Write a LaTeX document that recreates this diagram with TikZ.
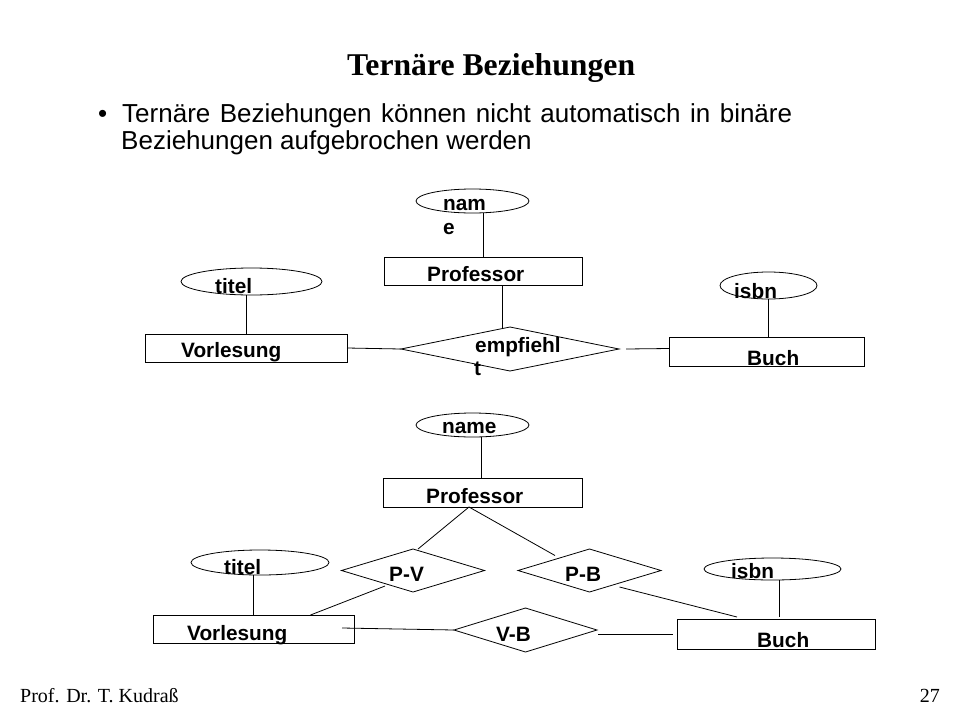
\documentclass[tikz,border=0pt]{standalone}
\usepackage{fontspec}
\setmainfont{Liberation Serif}
\newfontfamily\arialfont{Liberation Sans}
\usetikzlibrary{shapes.geometric,calc}
\tikzset{
  ent/.style={draw, rectangle, inner sep=0pt, outer sep=0pt, line width=0.8pt},
  attr/.style={draw, ellipse, inner sep=0pt, outer sep=0pt, line width=0.8pt},
  rel/.style={draw, diamond, inner sep=0pt, outer sep=0pt, line width=0.8pt},
  lbl/.style={inner sep=0pt, anchor=base west, font=\arialfont\bfseries\fontsize{20.8}{24}\selectfont},
  conn/.style={line width=0.8pt},
  txt/.style={inner sep=0pt, anchor=base west}
}
\begin{document}
\begin{tikzpicture}[x=1pt, y=-1pt]
\useasboundingbox[fill=white] (0,0) rectangle (960,720);

% title and bullet text
\node[txt, font=\bfseries\fontsize{31.7}{36}\selectfont] (title) at (347,75) {Ternäre Beziehungen};
\node[txt, font=\arialfont\fontsize{26}{28}\selectfont] (bul) at (98,122.7) {•};
\node[txt, font=\arialfont\fontsize{26}{28}\selectfont] (line1) at (122,122.7) {\makebox[670pt][s]{Ternäre Beziehungen können nicht automatisch in binäre}};
\node[txt, font=\arialfont\fontsize{26}{28}\selectfont] (line2) at (121,149.5) {Beziehungen aufgebrochen werden};

% footer
\node[txt, font=\fontsize{20}{24}\selectfont] (foot) at (20,702.7) {Prof. Dr. T. Kudraß};
\node[inner sep=0pt, anchor=base east, font=\fontsize{20}{24}\selectfont] (page) at (940,702.7) {27};

% ---------- upper diagram ----------
\node[attr, minimum width=113pt, minimum height=24pt] (nameU) at (472.5,201) {};
\node[ent, minimum width=198pt, minimum height=28pt] (profU) at (483,271) {};
\node[attr, minimum width=141pt, minimum height=27pt] (titelU) at (251.5,281.5) {};
\node[ent, minimum width=202pt, minimum height=28pt] (vorlU) at (246,348) {};
\node[rel, minimum width=218pt, minimum height=44pt] (empfU) at (510,349) {};
\node[ent, minimum width=195pt, minimum height=29pt] (buchU) at (766.5,351.5) {};
\node[attr, minimum width=97pt, minimum height=27pt] (isbnU) at (768.5,285.5) {};

\draw[conn] (nameU.south -| profU.north) -- (profU.north);
\draw[conn] ($(profU.south)+(19,0)$) -- ($(empfU.north)+(-8,1.5)$);
\draw[conn] (titelU.south -| vorlU.north) -- (vorlU.north);
\draw[conn] (vorlU.east) -- (empfU.west);
\draw[conn] ($(empfU.east)+(7,0)$) -- ($(buchU.west)+(0,-3)$);
\draw[conn] (isbnU.south) -- (isbnU.south |- buchU.north);

\node[lbl] (lnam) at (443,210) {nam};
\node[lbl] (le) at (443,234) {e};
\node[lbl] (lprofU) at (427,281) {Professor};
\node[lbl] (ltitelU) at (215,293) {titel};
\node[lbl] (lvorlU) at (181,357.5) {Vorlesung};
\node[lbl] (lempf) at (475,352) {empfiehl};
\node[lbl] (lt) at (474,375) {t};
\node[lbl] (lbuchU) at (747,365) {Buch};
\node[lbl] (lisbnU) at (734,298) {isbn};

% ---------- lower diagram ----------
\node[attr, minimum width=113pt, minimum height=24pt] (nameL) at (472.5,425) {};
\node[ent, minimum width=199pt, minimum height=29pt] (profL) at (483,492.5) {};
\node[attr, minimum width=138pt, minimum height=25pt] (titelL) at (260,562.5) {};
\node[rel, minimum width=143pt, minimum height=43pt] (pvL) at (413,570.5) {};
\node[rel, minimum width=143pt, minimum height=43pt] (pbL) at (589.5,570.5) {};
\node[attr, minimum width=137pt, minimum height=22pt] (isbnL) at (772.5,569) {};
\node[ent, minimum width=201pt, minimum height=28pt] (vorlL) at (253.5,629) {};
\node[rel, minimum width=143pt, minimum height=44pt] (vbL) at (525.5,630) {};
\node[ent, minimum width=198pt, minimum height=30pt] (buchL) at (776,634) {};

\draw[conn] ($(nameL.south)+(8.5,0)$) -- ($(profL.north)+(-2,0)$);
\draw[conn] ($(profL.south)+(-14,0)$) -- ($(pvL.north)+(5,0)$);
\draw[conn] ($(profL.south)+(-14,0)$) -- ($(pbL.west)+(37,-15)$);
\draw[conn] ($(pvL.south)+(-28,-6)$) -- ($(vorlL.north)+(57,0)$);
\draw[conn] ($(pbL.south)+(30,-5)$) -- ($(buchL.north)+(-39,-2)$);
\draw[conn] (titelL.south -| vorlL.north) -- (vorlL.north);
\draw[conn] ($(vorlL.east)+(-12,-1)$) -- (vbL.west);
\draw[conn] ($(vbL.east)+(1,4)$) -- ($(buchL.west)+(-4,0)$);
\draw[conn] ($(isbnL.south)+(6.5,0)$) -- ($(buchL.north)+(3,-2)$);

\node[lbl] (lnameL) at (442,433) {name};
\node[lbl] (lprofL) at (426,503) {Professor};
\node[lbl] (ltitelL) at (224,574) {titel};
\node[lbl] (lpv) at (389,581) {P-V};
\node[lbl] (lpb) at (565,581) {P-B};
\node[lbl] (lisbnL) at (731,578) {isbn};
\node[lbl] (lvorlL) at (187,640) {Vorlesung};
\node[lbl] (lvb) at (496,641) {V-B};
\node[lbl] (lbuchL) at (757,647) {Buch};
\end{tikzpicture}
\end{document}
